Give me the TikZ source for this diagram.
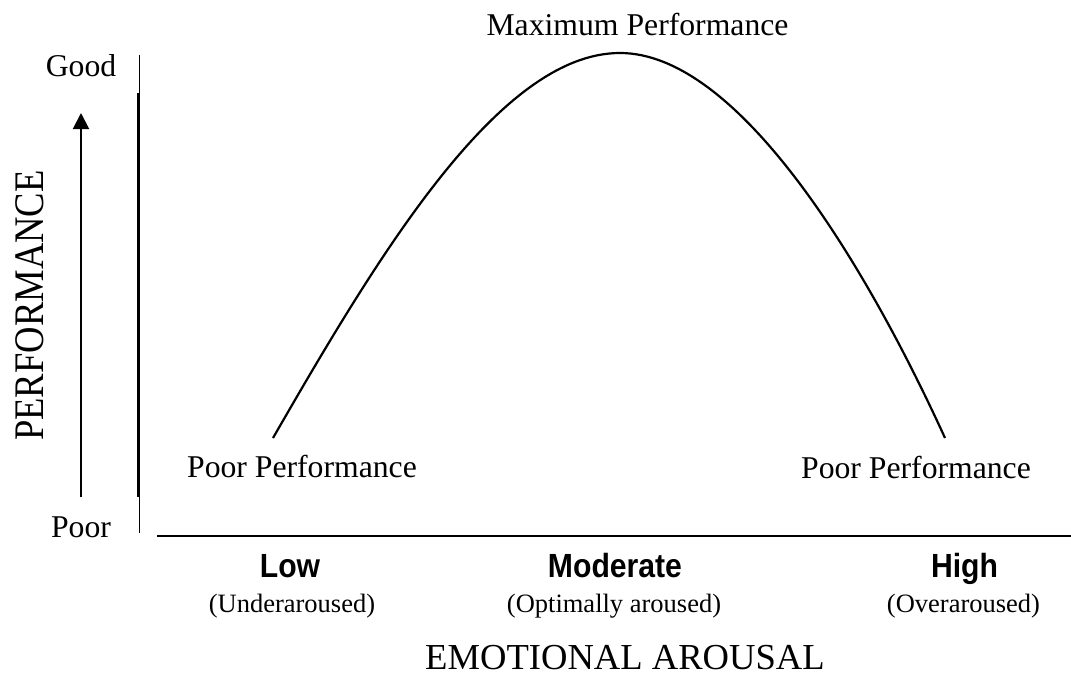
\documentclass[tikz,border=0pt]{standalone}
\usepackage{fontspec}
\setmainfont{Liberation Serif}
\newfontfamily\narrowsans[FakeStretch=0.9]{Liberation Sans}
\usetikzlibrary{arrows.meta}
\begin{document}
\begin{tikzpicture}[x=1pt,y=-1pt,
  label/.style={inner sep=0pt,anchor=base,font=\fontsize{31.7}{36}\selectfont},
  level/.style={inner sep=0pt,anchor=base,font=\narrowsans\bfseries\fontsize{33.5}{38}\selectfont},
  sublevel/.style={inner sep=0pt,anchor=base,font=\fontsize{26.5}{30}\selectfont},
  axistitle/.style={inner sep=0pt,font=\fontsize{36.6}{42}\selectfont},
  thinaxis/.style={line width=1pt},
  axis/.style={line width=2pt},
  curve/.style={line width=2.2pt,line join=round}]
\useasboundingbox (0,0) rectangle (1071,675);

% vertical axis: thin full-height stroke with a heavier middle part
\coordinate (ytop) at (139,55);
\coordinate (ybot) at (139,533);
\coordinate (ymidtop) at (138,93);
\coordinate (ymidbot) at (138,497);
\draw[thinaxis] (ytop) -- (ybot);
\draw[axis] (ymidtop) -- (ymidbot);

% horizontal axis
\coordinate (xstart) at (157,536);
\coordinate (xend) at (1071,536);
\draw[axis] (xstart) -- (xend);

% upward arrow beside the performance scale
\coordinate (arrowfoot) at (81,497);
\coordinate (arrowtip) at (81,113);
\draw[axis,-{Triangle[length=16pt,width=16pt]}] (arrowfoot) -- (arrowtip);

% inverted-U performance curve: two cubic halves meeting at the peak
\coordinate (lowend) at (273,438);
\coordinate (peak) at (620,53);
\coordinate (highend) at (945,438);
\draw[curve] (lowend) .. controls (380,252) and (500,53) .. (peak)
             .. controls (735,53) and (860,252) .. (highend);

% scale ends
\node[label] (good) at (81,76) {Good};
\node[label] (poor) at (81,537) {Poor};
\node[axistitle,rotate=90] (perf) at (30,305.5) {\scalebox{1}[1.15]{PERFORMANCE}};

% curve annotations
\node[label] (maxperf) at (637.5,35) {Maximum Performance};
\node[label] (poorleft) at (302,477) {Poor Performance};
\node[label] (poorright) at (916,478) {Poor Performance};

% arousal levels
\node[level] (low) at (290,577) {Low};
\node[level] (moderate) at (615,577) {Moderate};
\node[level] (high) at (964.5,577) {High};
\node[sublevel] (under) at (292,612) {(Underaroused)};
\node[sublevel] (optimal) at (614,612) {(Optimally aroused)};
\node[sublevel] (over) at (963.5,612) {(Overaroused)};

\node[axistitle,anchor=base] (arousal) at (625,669) {EMOTIONAL AROUSAL};
\end{tikzpicture}
\end{document}
